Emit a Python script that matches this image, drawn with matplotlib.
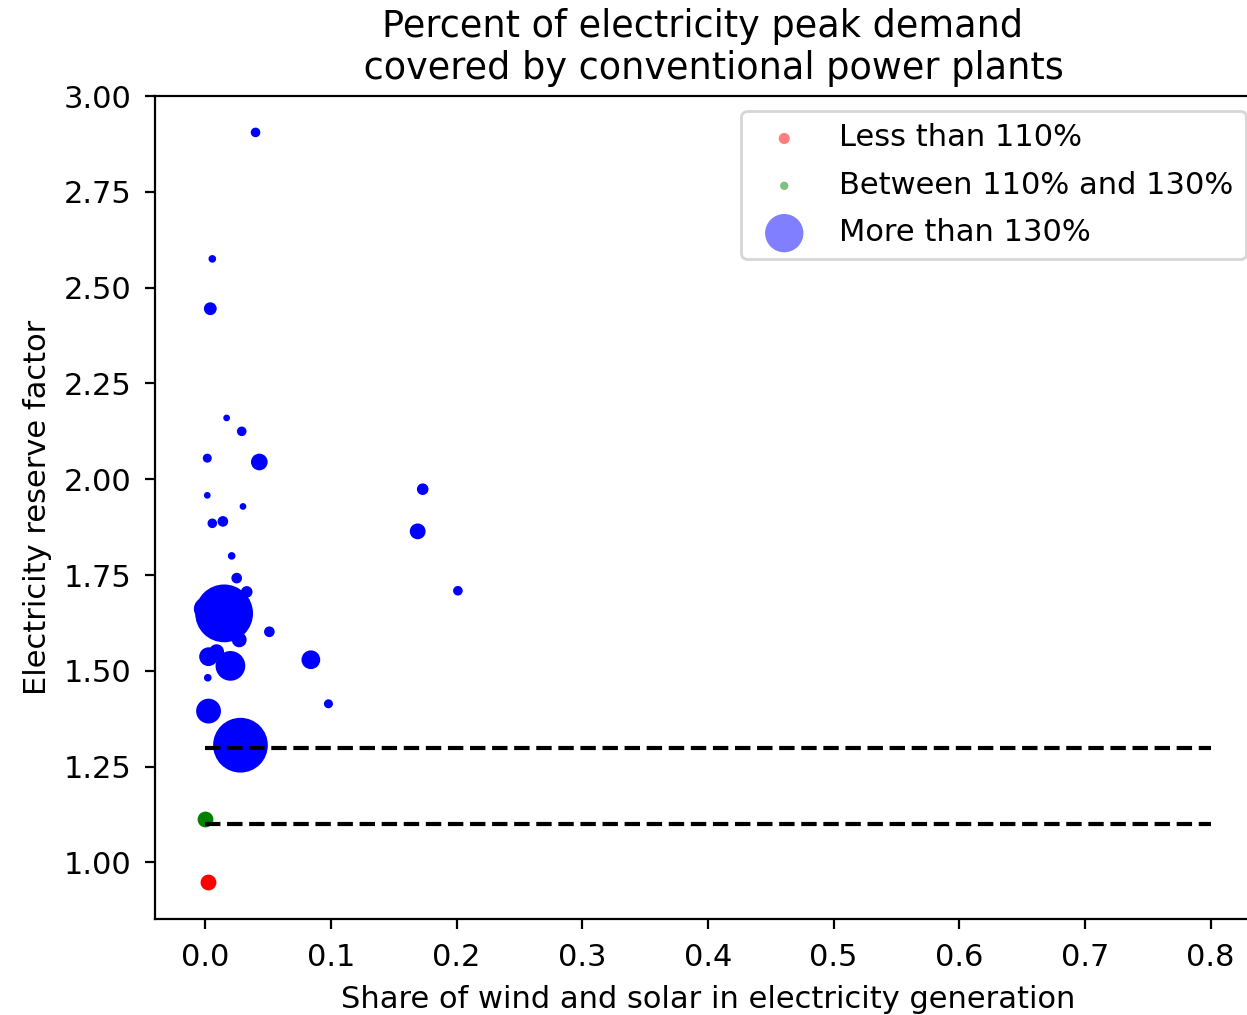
import matplotlib
matplotlib.use("Agg")
import matplotlib.pyplot as plt

plt.rcParams["font.size"] = 11

# share of wind+solar, reserve factor, marker size (pt^2)
low_x = [0.002]
low_y = [0.950]
low_s = [22]

mid_x = [0.000]
mid_y = [1.113]
mid_s = [22]

high_x = [0.040, 0.0056, 0.004, 0.017, 0.029, 0.043, 0.0016, 0.0016, 0.030,
          0.0056, 0.014, 0.021, 0.025, 0.033, 0.015, 0.000, 0.0135, 0.021,
          0.0135, 0.027, 0.051, 0.0026, 0.009, 0.020, 0.084, 0.002, 0.0026,
          0.098, 0.028, 0.0217, 0.169, 0.173, 0.201]
high_y = [2.905, 2.575, 2.445, 2.160, 2.125, 2.045, 2.055, 1.958, 1.929,
          1.885, 1.890, 1.800, 1.742, 1.706, 1.650, 1.662, 1.649, 1.636,
          1.597, 1.581, 1.602, 1.537, 1.550, 1.513, 1.529, 1.482, 1.395,
          1.414, 1.306, 1.338, 1.864, 1.974, 1.709]
high_s = [6, 3, 13, 2, 6, 25, 5, 2, 2,
          6, 8, 3, 8, 10, 392, 52, 13, 8,
          8, 19, 8, 33, 19, 94, 33, 3, 63,
          5, 350, 8, 22, 10, 6]

thresholds = [1.3, 1.1]

fig = plt.figure(figsize=(6.235, 5.075), dpi=200)
ax = fig.add_axes([155 / 1247, 96 / 1015, 1106 / 1247, 823 / 1015])

ax.scatter(low_x, low_y, s=low_s, c="red", label="Less than 110%")
ax.scatter(mid_x, mid_y, s=mid_s, c="green", label="Between 110% and 130%")
ax.scatter(high_x, high_y, s=high_s, c="blue", label="More than 130%")

for t in thresholds:
    ax.plot([0, 0.8], [t, t], "k--")

ax.set_xlim(-0.04, 0.84)
ax.set_ylim(0.8525, 3.0)
ax.set_xticks([0.0, 0.1, 0.2, 0.3, 0.4, 0.5, 0.6, 0.7, 0.8])
ax.tick_params(pad=5)

ax.set_title("Percent of electricity peak demand \n covered by conventional power plants")
ax.set_xlabel("Share of wind and solar in electricity generation", labelpad=5)
ax.set_ylabel("Electricity reserve factor")

leg = ax.legend(loc="upper right", labelspacing=0.6)
for h in leg.legend_handles:
    h.set_alpha(0.5)
    h.set_edgecolor("none")
leg.legend_handles[0].set_sizes([16])
leg.legend_handles[1].set_sizes([9])
leg.legend_handles[2].set_sizes([190])

fig.savefig("out.png", dpi=200)
